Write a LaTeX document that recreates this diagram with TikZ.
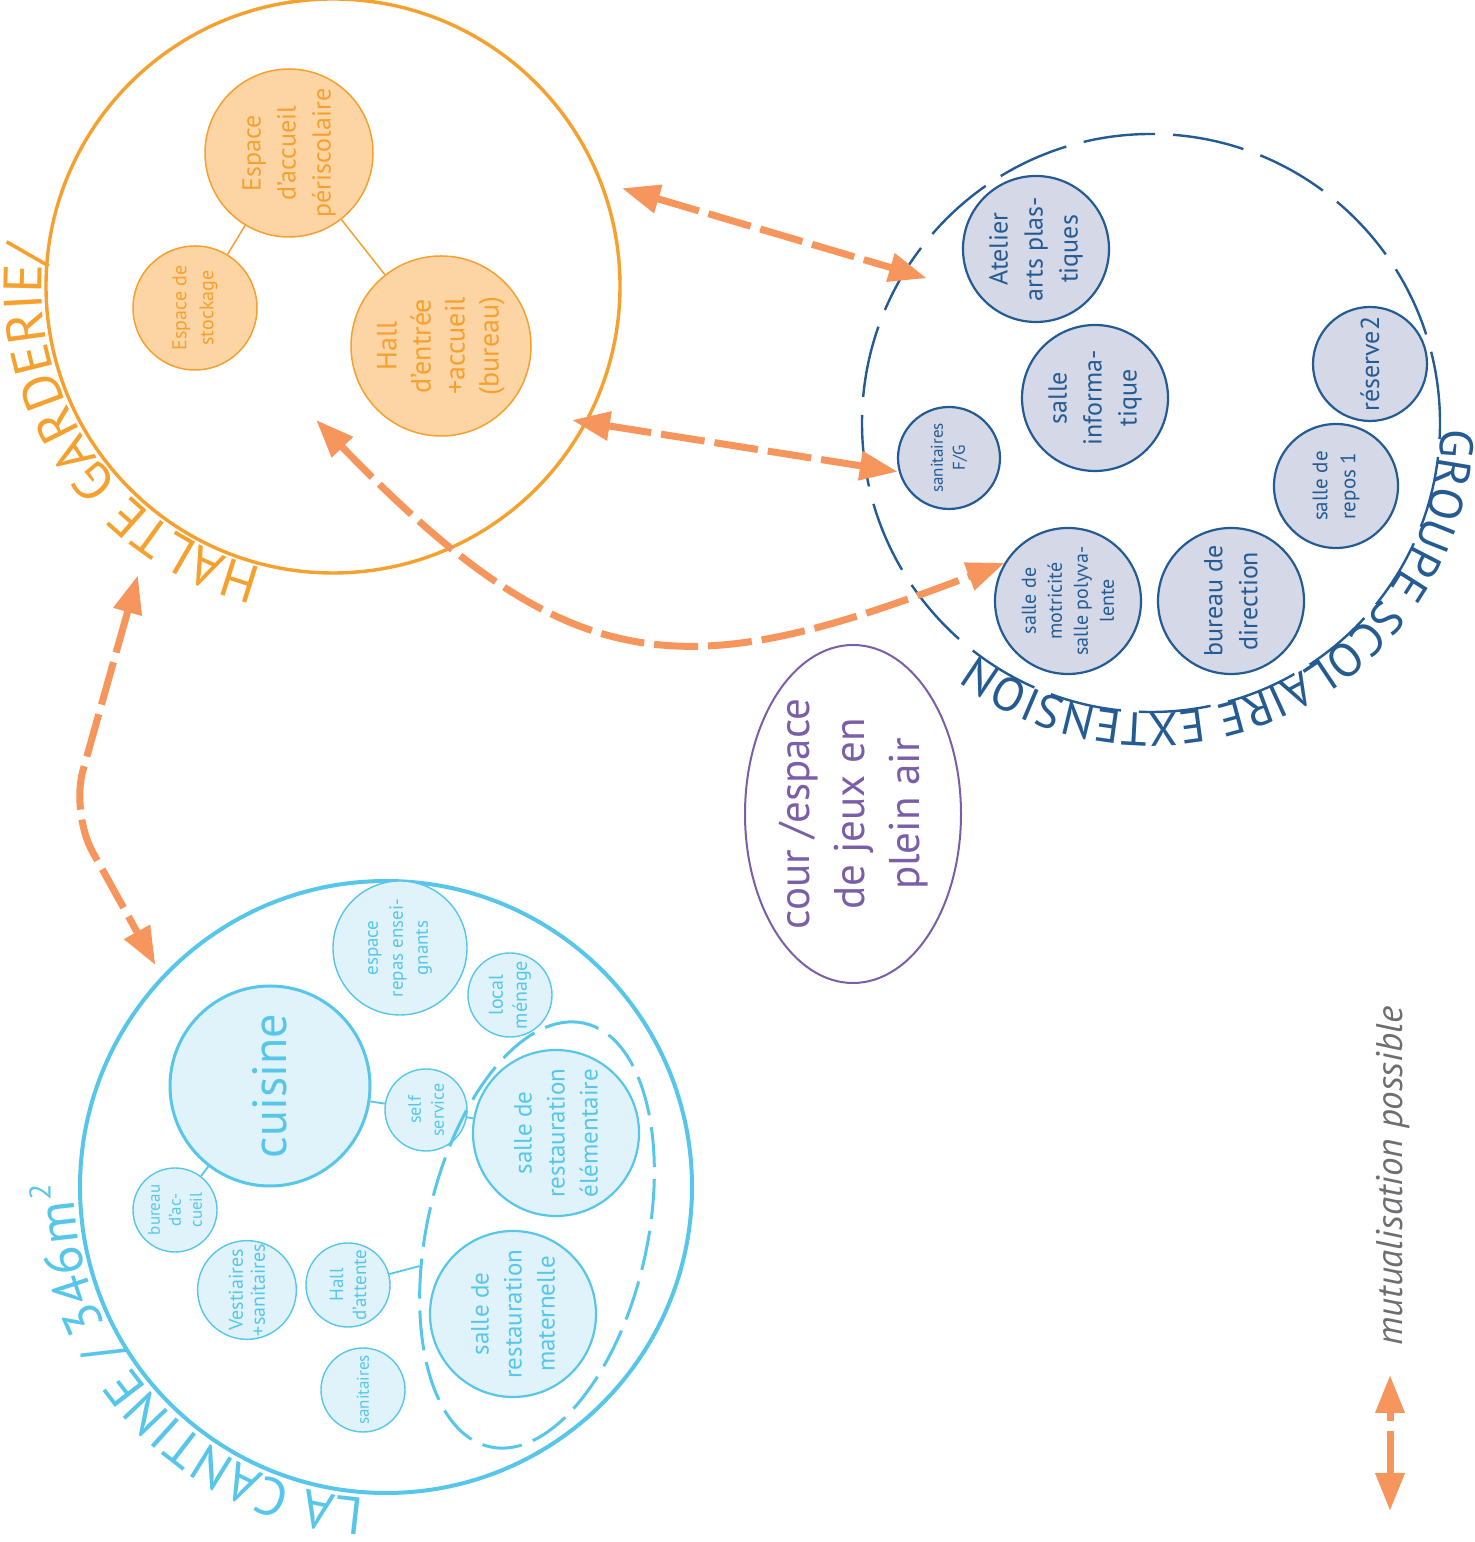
\documentclass[tikz,border=0pt]{standalone}
\usepackage{fontspec}
\setmainfont{PT Sans}
\usetikzlibrary{arrows.meta,calc,shapes.geometric,decorations.text}

\definecolor{hgline}{HTML}{F6A02E}
\definecolor{hgfill}{HTML}{FDD5A5}
\definecolor{gsline}{HTML}{245B93}
\definecolor{gsfill}{HTML}{D4D8E7}
\definecolor{cnline}{HTML}{56C6EA}
\definecolor{cnfill}{HTML}{E1F3FA}
\definecolor{arrcol}{HTML}{F6965C}
\definecolor{courcol}{HTML}{7B5EA8}
\definecolor{legcol}{HTML}{6D6E71}

\newcommand{\fsz}[2]{\fontsize{#1pt}{#2pt}\selectfont}

\tikzset{
  zone/.style={circle,inner sep=0pt,minimum size=#1},
  hgroom/.style={zone=#1,draw=hgline,fill=hgfill,text=hgline,line width=0.75pt,rotate=90,align=center},
  gsroom/.style={zone=#1,draw=gsline,fill=gsfill,text=gsline,line width=1.1pt,rotate=90,align=center},
  cnroom/.style={zone=#1,draw=cnline,fill=cnfill,text=cnline,line width=0.7pt,rotate=90,align=center},
  mutu/.style={draw=arrcol,line width=3.5pt,dash pattern=on 22pt off 5pt,>={Triangle[length=19pt,width=14pt]},<->},
}

\begin{document}
\begin{tikzpicture}[x=0.5pt,y=0.5pt]
\useasboundingbox (0,0) rectangle (1475,1542);
% halte garderie
\node (halte) [zone=287pt,draw=hgline,line width=1.7pt] at (333,1256) {};
\node (peri) [hgroom=84pt,font=\fsz{13}{17.5}] at (289,1389) {Espace\\d’accueil\\périscolaire};
\node (stock) [hgroom=62pt,font=\fsz{10}{13.5}] at (195,1234) {Espace de\\stockage};
\node (hall) [hgroom=90pt,font=\fsz{14}{17}] at (441,1196) {Hall\\d’entrée\\+accueil\\(bureau)};
\draw[hgline,line width=0.75pt] (peri) -- (stock);
\draw[hgline,line width=0.75pt] (peri) -- (hall);
\path[decorate,decoration={text along path,text color=hgline,text={|\fsz{27}{30}|HALTE GARDERIE/}}]
  (halte.center) ++(256:291) arc[start angle=256,end angle=160,radius=291];

% groupe scolaire
\node (groupe) [zone=289pt,draw=gsline,line width=1.2pt,dash pattern=on 36pt off 9pt] at (1151,1119) {};
\node (atelier) [gsroom=73pt,font=\fsz{13}{17.5}] at (1036,1293) {Atelier\\arts plas-\\tiques};
\node (info) [gsroom=73pt,font=\fsz{13}{17.5}] at (1095,1144) {salle\\informa-\\tique};
\node (sanfg) [gsroom=51pt,font=\fsz{8.5}{11}] at (949,1084) {sanitaires\\F/G};
\node (reserve) [gsroom=57pt,font=\fsz{13}{15}] at (1370,1178) {réserve2};
\node (repos) [gsroom=62pt,font=\fsz{10.5}{14}] at (1336,1056) {salle de\\repos 1};
\node (direction) [gsroom=73pt,font=\fsz{13}{17.5}] at (1231,941) {bureau de\\direction};
\node (motri) [gsroom=73pt,font=\fsz{10}{13}] at (1068,941) {salle de\\motricité\\salle polyva-\\lente};
\path[decorate,decoration={text along path,text color=gsline,text={|\fsz{23.5}{28}|GROUPE SCOLAIRE EXTENSION}}]
  (groupe.center) ++(-1:290) arc[start angle=-1,end angle=-140,radius=290];

% cantine
\node (cantine) [zone=306pt,draw=cnline,line width=2pt] at (386,355) {};
\node (cuisine) [cnroom=100pt,line width=1.5pt,font=\fsz{24}{28}] at (270,456) {cuisine};
\node (repas) [cnroom=67pt,font=\fsz{9.5}{12.5}] at (400,594) {espace\\repas ensei-\\gnants};
\node (menage) [cnroom=42pt,font=\fsz{10}{12}] at (510,547) {local\\ménage};
\node (self) [cnroom=41pt,font=\fsz{9}{11.5}] at (426,432) {self\\service};
\node (elem) [cnroom=83pt,line width=1.1pt,font=\fsz{12.5}{16.5}] at (556,409) {salle de\\restauration\\élémentaire};
\node (mater) [cnroom=83pt,line width=1.1pt,font=\fsz{12.5}{16.5}] at (513,228) {salle de\\restauration\\maternelle};
\node (accueil) [cnroom=42pt,font=\fsz{8.5}{10.5}] at (175,332) {bureau\\d’ac-\\cueil};
\node (vestiaires) [cnroom=42pt,font=\fsz{10}{11}] at (247,252) {Vestiaires\\+sanitaires};
\node (attente) [cnroom=42pt,font=\fsz{9.5}{11.5}] at (348,257) {Hall\\d’attente};
\node (sanit) [cnroom=42pt,font=\fsz{8.5}{11}] at (363,152) {sanitaires};
\node (salles) [ellipse,inner sep=0pt,draw=cnline,line width=1.5pt,dash pattern=on 20pt off 6pt,minimum width=217pt,minimum height=110pt,rotate=77.4] at (537,307) {};
\draw[cnline,line width=0.9pt] (cuisine) -- (self);
\draw[cnline,line width=0.9pt] (self) -- (elem);
\draw[cnline,line width=0.9pt] (cuisine) -- (accueil);
\draw[cnline,line width=0.9pt] (attente) -- (salles);
\path[decorate,decoration={text along path,text color=cnline,text={|\fsz{26.5}{30}|LA CANTINE / 346m}}]
  (cantine.center) ++(266:312) arc[start angle=266,end angle=160,radius=312];
\node (sq) [rotate=90,text=cnline,font=\fsz{15}{18}] at ($(cantine.center)+(180.8:346)$) {2};

% cour
\node (cour) [ellipse,inner sep=0pt,draw=courcol,line width=1pt,minimum width=169pt,minimum height=108pt,rotate=90,text=courcol,align=center,font=\fsz{21.5}{27.5}] at (853,728) {cour /espace\\de jeux en\\plein air};

% mutualisations
\coordinate (a1s) at ($(halte.center)+(18.7:305)$);
\coordinate (a1e) at ($(atelier.center)+(195:113)$);
\coordinate (a2s) at ($(halte.center)+(-29.3:274)$);
\coordinate (a2e) at ($(sanfg.center)+(195:53)$);
\coordinate (a3s) at ($(halte.center)+(262.8:135)$);
\coordinate (a3e) at ($(motri.center)+(149:74)$);
\coordinate (a4s) at ($(halte.center)+(236:349)$);
\coordinate (a4k) at (71,729);
\coordinate (a4e) at ($(cantine.center)+(136.1:320)$);
\draw[mutu] (a1s) -- (a1e);
\draw[mutu] (a2s) -- (a2e);
\draw[mutu] (a3s) .. controls +(-46:370) and +(201:340) .. (a3e);
\draw[mutu,rounded corners=22pt] (a4s) -- (a4k) -- (a4e);

% legende
\coordinate (legtop) at (1390,167);
\coordinate (legbot) at (1390,31);
\draw[mutu] (legbot) -- (legtop);
\node (legend) [rotate=90,text=legcol,font=\itshape\fsz{18.5}{21}] at (1393,366) {mutualisation possible};
\end{tikzpicture}
\end{document}
